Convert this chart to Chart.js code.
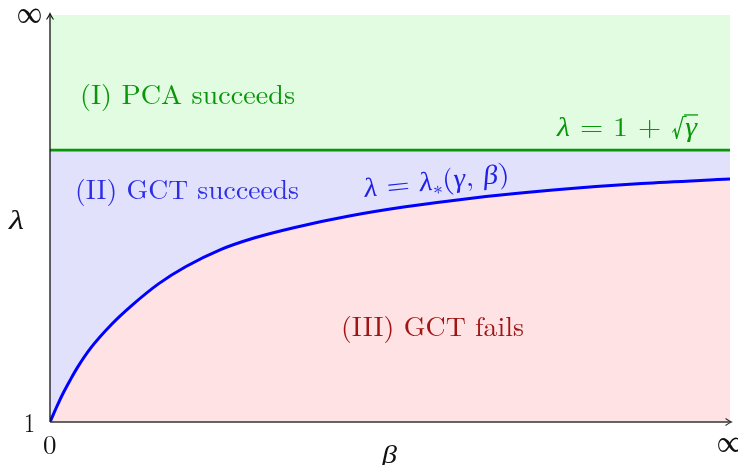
<!DOCTYPE html>
<html>
<head>
<meta charset="utf-8">
<script src="https://cdn.jsdelivr.net/npm/chart.js@4.4.1/dist/chart.umd.min.js"></script>
<style>
  html, body { margin: 0; padding: 0; background: #ffffff; }
  canvas { display: block; }
</style>
</head>
<body>
<canvas id="c" width="738" height="465" style="width:738px;height:465px"></canvas>
<script>
// ---- data (abstract units: beta 0..100 = 0..inf, lambda 0..100 = 1..inf) ----
const betaValues   = [0, 1, 2, 3, 4, 6, 9, 12, 16, 20, 25, 30, 36, 44, 52, 62, 74, 87, 100];
const lambdaStar   = [0, 3.8, 7.3, 10.4, 13.3, 18.2, 23.9, 28.6, 34.0, 38.2, 42.3, 45.2, 47.8, 50.6, 52.8, 55.0, 57.0, 58.6, 59.7];
const pcaThreshold = 66.8;          // lambda = 1 + sqrt(gamma)
const axisRange    = [0, 100];      // both axes run from their origin to "infinity"
const xTickLabels  = ['0', '∞'];
const yTickLabels  = ['1', '∞'];

const curvePts = betaValues.map((b, i) => ({ x: b, y: lambdaStar[i] }));
const threshPts = axisRange.map(b => ({ x: b, y: pcaThreshold }));
const topPts = axisRange.map(b => ({ x: b, y: axisRange[1] }));

const SERIF = '"Latin Modern Roman","CMU Serif","Liberation Serif","DejaVu Serif",serif';

function drawRich(ctx, segs, x, y, size, color, targetW, angle) {
  ctx.save();
  ctx.translate(x, y);
  if (angle) ctx.rotate(angle * Math.PI / 180);
  let w = 0;
  const parts = segs.map(s => {
    const sz = s.sub ? size * 0.68 : size;
    const font = (s.it ? 'italic ' : '') + sz + 'px ' + SERIF;
    ctx.font = font;
    const mw = ctx.measureText(s.t).width;
    const p = { s, font, x: w, w: mw, dy: s.sub ? size * 0.18 : 0 };
    w += mw;
    return p;
  });
  const sx = targetW ? targetW / w : 1;
  ctx.scale(sx, 1);
  ctx.fillStyle = color;
  ctx.strokeStyle = color;
  ctx.textBaseline = 'alphabetic';
  ctx.textAlign = 'left';
  parts.forEach(p => {
    ctx.font = p.font;
    ctx.fillText(p.s.t, p.x, p.dy);
    if (p.s.over) {
      ctx.lineWidth = 1.3;
      ctx.beginPath();
      ctx.moveTo(p.x - 1, -size * 0.78);
      ctx.lineTo(p.x + p.w + 1, -size * 0.78);
      ctx.stroke();
    }
  });
  ctx.restore();
}

const overlay = {
  id: 'overlay',
  afterDraw(chart) {
    const ctx = chart.ctx;
    const xs = chart.scales.x, ys = chart.scales.y;
    const L = xs.getPixelForValue(axisRange[0]);
    const R = xs.getPixelForValue(axisRange[1]);
    const B = ys.getPixelForValue(axisRange[0]);
    const T = ys.getPixelForValue(axisRange[1]);
    ctx.save();
    ctx.strokeStyle = '#111';
    ctx.lineWidth = 1.3;
    ctx.beginPath();
    ctx.moveTo(L, B); ctx.lineTo(L, T - 1);
    ctx.stroke();
    ctx.strokeStyle = '#333';
    ctx.beginPath();
    ctx.moveTo(L, B); ctx.lineTo(R + 1, B);
    ctx.stroke();
    ctx.strokeStyle = '#111';
    ctx.lineWidth = 1.1;
    ctx.beginPath();
    ctx.moveTo(L - 3.5, T + 4.5); ctx.quadraticCurveTo(L - 1, T + 1, L, T - 1.5); ctx.quadraticCurveTo(L + 1, T + 1, L + 3.5, T + 4.5);
    ctx.stroke();
    ctx.strokeStyle = '#333';
    ctx.beginPath();
    ctx.moveTo(R - 4.5, B - 3.5); ctx.quadraticCurveTo(R - 1, B - 1, R + 1.5, B); ctx.quadraticCurveTo(R - 1, B + 1, R - 4.5, B + 3.5);
    ctx.stroke();
    ctx.restore();

    // tick labels
    drawRich(ctx, [{ t: yTickLabels[1] }], 17, T + 8, 30, '#111', 25);
    drawRich(ctx, [{ t: yTickLabels[0] }], 24, B + 10, 27, '#111', 11);
    drawRich(ctx, [{ t: xTickLabels[0] }], L - 7, B + 32, 27, '#111', 13.5);
    drawRich(ctx, [{ t: xTickLabels[1] }], R - 13, B + 30, 30, '#111', 25);
    // axis titles
    drawRich(ctx, [{ t: 'λ', it: true }], 9, 229, 27, '#111', 15);
    drawRich(ctx, [{ t: 'β', it: true }], 382, 463, 26, '#111', 15);

    // region labels
    drawRich(ctx, [{ t: '(I) PCA succeeds' }], 80, 104, 27, '#0a960a', 215);
    drawRich(ctx, [{ t: '(II) GCT succeeds' }], 75, 199, 27, '#2d2de6', 224);
    drawRich(ctx, [{ t: '(III) GCT fails' }], 341, 336, 27, '#a01414', 183);

    // formulas
    drawRich(ctx, [
      { t: 'λ', it: true }, { t: ' = 1 + ' }, { t: '√' }, { t: 'γ', it: true, over: true }
    ], 557, 136, 27, '#0a960a', 140);
    drawRich(ctx, [
      { t: 'λ', it: true }, { t: ' = ' }, { t: 'λ', it: true }, { t: '∗', sub: true },
      { t: '(' }, { t: 'γ', it: true }, { t: ', ' }, { t: 'β', it: true }, { t: ')' }
    ], 365, 197, 27, '#2020e8', 146, -6);
  }
};

new Chart(document.getElementById('c'), {
  type: 'line',
  data: {
    datasets: [
      {
        label: 'lambda*',
        data: curvePts,
        borderColor: '#0000ff',
        borderWidth: 3,
        backgroundColor: 'rgb(255,226,228)',
        fill: 'start',
        cubicInterpolationMode: 'monotone',
        pointRadius: 0
      },
      {
        label: 'threshold',
        data: threshPts,
        borderColor: '#0a960a',
        borderWidth: 2.8,
        backgroundColor: 'rgb(225,225,252)',
        fill: 0,
        pointRadius: 0
      },
      {
        label: 'top',
        data: topPts,
        borderWidth: 0,
        borderColor: 'rgba(0,0,0,0)',
        backgroundColor: 'rgb(225,252,225)',
        fill: 1,
        pointRadius: 0
      }
    ]
  },
  options: {
    responsive: false,
    animation: false,
    events: [],
    layout: { padding: { left: 50, right: 8, top: 15, bottom: 43 } },
    scales: {
      x: { type: 'linear', min: axisRange[0], max: axisRange[1], display: false },
      y: { type: 'linear', min: axisRange[0], max: axisRange[1], display: false }
    },
    plugins: {
      legend: { display: false },
      tooltip: { enabled: false }
    }
  },
  plugins: [overlay]
});
</script>
</body>
</html>
